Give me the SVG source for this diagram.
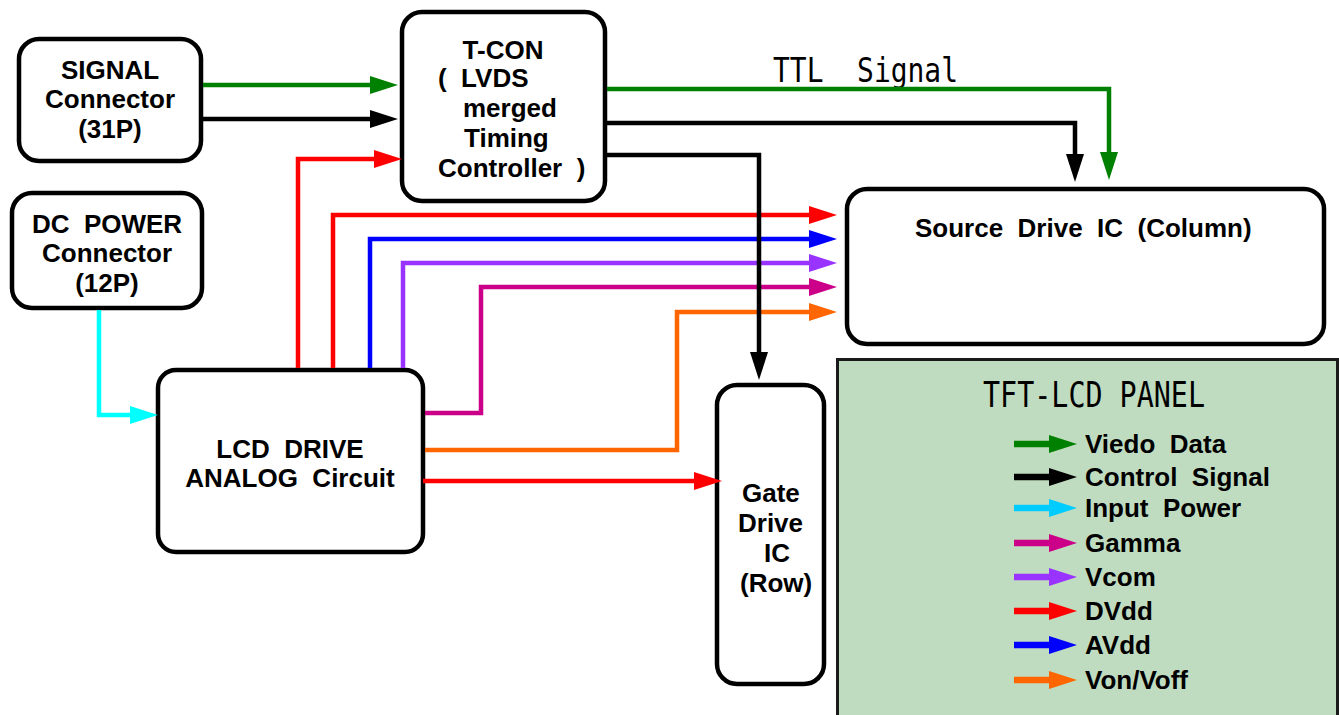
<svg xmlns="http://www.w3.org/2000/svg" width="1339" height="715" viewBox="0 0 1339 715">
<style>
.box{fill:#fff;stroke:#000;stroke-width:4.5}
.t{font-family:"Liberation Sans",Arial,Helvetica,sans-serif;font-weight:bold;font-size:26px;fill:#000;white-space:pre}
.m{font-family:"DejaVu Sans Mono","Liberation Mono",monospace;font-weight:normal;fill:#000;white-space:pre}
.c{fill:none;stroke-width:4.5;stroke-linejoin:miter;stroke-linecap:butt}
.l{fill:none;stroke-width:6.5;stroke-linecap:butt}
</style>
<defs>
<marker id="aG" markerUnits="userSpaceOnUse" markerWidth="28" markerHeight="18" refX="0" refY="9" orient="auto"><path d="M0,0 L28,9 L0,18 Z" fill="#008000"/></marker>
<marker id="aK" markerUnits="userSpaceOnUse" markerWidth="28" markerHeight="18" refX="0" refY="9" orient="auto"><path d="M0,0 L28,9 L0,18 Z" fill="#000000"/></marker>
<marker id="aR" markerUnits="userSpaceOnUse" markerWidth="28" markerHeight="18" refX="0" refY="9" orient="auto"><path d="M0,0 L28,9 L0,18 Z" fill="#ff0000"/></marker>
<marker id="aB" markerUnits="userSpaceOnUse" markerWidth="28" markerHeight="18" refX="0" refY="9" orient="auto"><path d="M0,0 L28,9 L0,18 Z" fill="#0000ff"/></marker>
<marker id="aP" markerUnits="userSpaceOnUse" markerWidth="28" markerHeight="18" refX="0" refY="9" orient="auto"><path d="M0,0 L28,9 L0,18 Z" fill="#9933ff"/></marker>
<marker id="aM" markerUnits="userSpaceOnUse" markerWidth="28" markerHeight="18" refX="0" refY="9" orient="auto"><path d="M0,0 L28,9 L0,18 Z" fill="#cc0088"/></marker>
<marker id="aO" markerUnits="userSpaceOnUse" markerWidth="28" markerHeight="18" refX="0" refY="9" orient="auto"><path d="M0,0 L28,9 L0,18 Z" fill="#ff6600"/></marker>
<marker id="aC" markerUnits="userSpaceOnUse" markerWidth="28" markerHeight="18" refX="0" refY="9" orient="auto"><path d="M0,0 L28,9 L0,18 Z" fill="#00ffff"/></marker>
<marker id="aL" markerUnits="userSpaceOnUse" markerWidth="28" markerHeight="18" refX="0" refY="9" orient="auto"><path d="M0,0 L28,9 L0,18 Z" fill="#00ccff"/></marker>
</defs>
<rect width="1339" height="715" fill="#fff"/>

<g id="tft-lcd-panel">
<rect x="837.5" y="359.5" width="500" height="362" fill="#c0dcc0" stroke="#1a1a1a" stroke-width="3"/>
<text class="m" x="983" y="407" font-size="35" textLength="222" lengthAdjust="spacingAndGlyphs">TFT-LCD PANEL</text>
<g id="legend">
<path class="l" d="M1014,444 H1049" stroke="#008000" marker-end="url(#aG)"/>
<text class="t" x="1085" y="453">Viedo  Data</text>
<path class="l" d="M1014,477 H1049" stroke="#000000" marker-end="url(#aK)"/>
<text class="t" x="1085" y="486">Control  Signal</text>
<path class="l" d="M1014,508 H1049" stroke="#00ccff" marker-end="url(#aL)"/>
<text class="t" x="1085" y="517">Input  Power</text>
<path class="l" d="M1014,543 H1049" stroke="#cc0088" marker-end="url(#aM)"/>
<text class="t" x="1085" y="552">Gamma</text>
<path class="l" d="M1014,577 H1049" stroke="#9933ff" marker-end="url(#aP)"/>
<text class="t" x="1085" y="586">Vcom</text>
<path class="l" d="M1014,611 H1049" stroke="#ff0000" marker-end="url(#aR)"/>
<text class="t" x="1085" y="620">DVdd</text>
<path class="l" d="M1014,645 H1049" stroke="#0000ff" marker-end="url(#aB)"/>
<text class="t" x="1085" y="654">AVdd</text>
<path class="l" d="M1014,680 H1049" stroke="#ff6600" marker-end="url(#aO)"/>
<text class="t" x="1085" y="689">Von/Voff</text>
</g>
</g>

<g id="signal-connector">
<rect class="box" x="19" y="39" width="182" height="122" rx="20"/>
<text class="t" x="110" y="79" text-anchor="middle">SIGNAL</text>
<text class="t" x="110" y="108" text-anchor="middle">Connector</text>
<text class="t" x="110" y="138" text-anchor="middle">(31P)</text>
</g>

<g id="dc-power-connector">
<rect class="box" x="12" y="193" width="190" height="115" rx="20"/>
<text class="t" x="107" y="233" text-anchor="middle">DC  POWER</text>
<text class="t" x="107" y="262" text-anchor="middle">Connector</text>
<text class="t" x="107" y="292" text-anchor="middle">(12P)</text>
</g>

<g id="tcon">
<rect class="box" x="402" y="12" width="203" height="189" rx="20"/>
<text class="t" x="503" y="59" text-anchor="middle">T-CON</text>
<text class="t" x="438" y="87">(  LVDS</text>
<text class="t" x="463" y="117">merged</text>
<text class="t" x="464" y="147">Timing</text>
<text class="t" x="438" y="177">Controller  )</text>
</g>

<g id="source-drive-ic">
<rect class="box" x="847" y="189" width="477" height="155" rx="20"/>
<text class="t" x="915" y="237">Source  Drive  IC  (Column)</text>
</g>

<g id="lcd-drive-analog">
<rect class="box" x="158" y="370" width="265" height="182" rx="18"/>
<text class="t" x="290" y="458" text-anchor="middle">LCD  DRIVE</text>
<text class="t" x="290" y="487" text-anchor="middle">ANALOG  Circuit</text>
</g>

<g id="gate-drive-ic">
<rect class="box" x="717" y="385" width="107" height="299" rx="20"/>
<text class="t" x="742" y="502">Gate</text>
<text class="t" x="738" y="532">Drive</text>
<text class="t" x="764" y="562">IC</text>
<text class="t" x="740" y="592">(Row)</text>
</g>

<g id="connectors">
<text class="m" x="773" y="82" font-size="34" textLength="185" lengthAdjust="spacingAndGlyphs">TTL  Signal</text>
<path class="c" d="M203,85 H370" stroke="#008000" marker-end="url(#aG)"/>
<path class="c" d="M203,119 H370" stroke="#000000" marker-end="url(#aK)"/>
<path class="c" d="M298,368 V159 H374" stroke="#ff0000" marker-end="url(#aR)"/>
<path class="c" d="M607,89 H1109 V152" stroke="#008000" marker-end="url(#aG)"/>
<path class="c" d="M607,123 H1075 V154" stroke="#000000" marker-end="url(#aK)"/>
<path class="c" d="M333,368 V215 H809" stroke="#ff0000" marker-end="url(#aR)"/>
<path class="c" d="M370,368 V239 H809" stroke="#0000ff" marker-end="url(#aB)"/>
<path class="c" d="M403,368 V263 H809" stroke="#9933ff" marker-end="url(#aP)"/>
<path class="c" d="M425,413 H481 V287 H809" stroke="#cc0088" marker-end="url(#aM)"/>
<path class="c" d="M425,450 H677 V312 H809" stroke="#ff6600" marker-end="url(#aO)"/>
<path class="c" d="M423,481 H694" stroke="#ff0000" marker-end="url(#aR)"/>
<path class="c" d="M99,310 V415 H130" stroke="#00ffff" marker-end="url(#aC)"/>
<path class="c" d="M607,155 H759 V352" stroke="#000000" marker-end="url(#aK)"/>
</g>
</svg>
